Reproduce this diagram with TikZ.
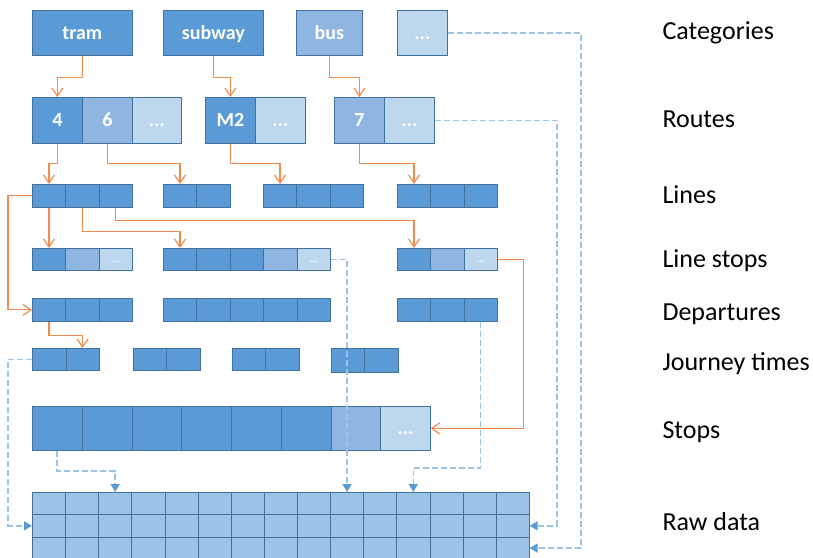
\documentclass[tikz,border=0pt]{standalone}
\usepackage{fontspec}
\setmainfont{Carlito}
\usepackage{tikz}
\usetikzlibrary{arrows.meta}

\definecolor{cellblue}{HTML}{5B9BD5}
\definecolor{midblue}{HTML}{8EB6E1}
\definecolor{paleblue}{HTML}{BDD7EE}
\definecolor{rawblue}{HTML}{9DC3E6}
\definecolor{edgeblue}{HTML}{41719C}
\definecolor{linkorange}{HTML}{F08C4E}
\definecolor{dashblue}{HTML}{9DC3E6}

\tikzset{
  cell/.style={draw=edgeblue, line width=0.7pt, fill=cellblue, inner sep=0pt, anchor=north west,
    text=white, font=\bfseries\fontsize{20}{20}\selectfont, text height=13pt, text depth=0pt},
  tiny/.style={font=\bfseries\fontsize{10}{10}\selectfont, text height=6pt},
  layer/.style={anchor=base west, font=\fontsize{26}{26}\selectfont},
  link/.style={draw=linkorange, line width=1.2pt, -{Straight Barb[length=8pt,width=11pt]}},
  ref/.style={draw=dashblue, line width=1.7pt, dash pattern=on 6pt off 3pt,
    -{Triangle[length=8pt,width=9pt,fill=cellblue,color=cellblue]}}
}

% cell row: name, x, y, width, height, colour list
\newcommand{\cellrow}[6]{%
  \foreach \c [count=\i] in {#6}
    \node[cell, fill=\c, minimum width=#4pt, minimum height=#5pt] (#1-\i) at ({#2+(\i-1)*#4}, {#3}) {};
}

\begin{document}
\begin{tikzpicture}[x=1pt, y=-1pt]
\useasboundingbox (0,0) rectangle (813,557);

% categories
\node[cell, minimum width=100pt, minimum height=45pt] (tram) at (32,10) {tram};
\node[cell, minimum width=100pt, minimum height=45pt] (subway) at (163,10) {subway};
\node[cell, fill=midblue, minimum width=66pt, minimum height=45pt] (bus) at (296,10) {bus};
\node[cell, fill=paleblue, minimum width=50pt, minimum height=45pt] (catmore) at (397,10) {...};

% routes
\node[cell, minimum width=50pt, minimum height=46pt] (r4) at (32,97) {4};
\node[cell, fill=midblue, minimum width=50pt, minimum height=46pt] (r6) at (82,97) {6};
\node[cell, fill=paleblue, minimum width=49pt, minimum height=46pt] (rmore1) at (132,97) {...};
\node[cell, minimum width=50pt, minimum height=46pt] (rM2) at (205,97) {M2};
\node[cell, fill=paleblue, minimum width=50pt, minimum height=46pt] (rmore2) at (255,97) {...};
\node[cell, fill=midblue, minimum width=50pt, minimum height=46pt] (r7) at (334,97) {7};
\node[cell, fill=paleblue, minimum width=50pt, minimum height=46pt] (rmore3) at (384,97) {...};

% lines
\cellrow{la}{32}{184}{33.3}{23}{cellblue,cellblue,cellblue}
\cellrow{lb}{163}{184}{33.3}{23}{cellblue,cellblue}
\cellrow{lc}{263}{184}{33.3}{23}{cellblue,cellblue,cellblue}
\cellrow{ld}{397}{184}{33.3}{23}{cellblue,cellblue,cellblue}

% line stops
\cellrow{sa}{32}{248}{33.3}{22}{cellblue,midblue,paleblue}
\cellrow{sb}{163}{248}{33.4}{22}{cellblue,cellblue,cellblue,midblue,paleblue}
\cellrow{sc}{397}{248}{33.3}{22}{cellblue,midblue,paleblue}
\foreach \n in {sa-3,sb-5,sc-3}
  \node[tiny, text=white] at (\n.center) {...};

% departures
\cellrow{da}{32}{298}{33.3}{23}{cellblue,cellblue,cellblue}
\cellrow{db}{163}{298}{33.4}{23}{cellblue,cellblue,cellblue,cellblue,cellblue}
\cellrow{dc}{397}{298}{33.3}{23}{cellblue,cellblue,cellblue}

% journey times
\cellrow{ja}{32}{348}{33.5}{22}{cellblue,cellblue}
\cellrow{jb}{133}{348}{33.3}{22}{cellblue,cellblue}
\cellrow{jc}{232}{348}{33.3}{22}{cellblue,cellblue}
\cellrow{jd}{331}{348}{33.3}{24}{cellblue,cellblue}

% stops
\cellrow{st}{32}{406}{49.75}{44}{cellblue,cellblue,cellblue,cellblue,cellblue,cellblue,midblue,paleblue}
\node[cell, fill=none, draw=none] at (st-8.north west) [minimum width=49.75pt, minimum height=44pt] {...};

% raw data
\foreach \r in {1,2,3} {
  \cellrow{raw\r}{32}{492+(\r-1)*22.3}{33.13}{22.3}{rawblue,rawblue,rawblue,rawblue,rawblue,rawblue,rawblue,rawblue,rawblue,rawblue,rawblue,rawblue,rawblue,rawblue,rawblue}
}

% layer names
\node[layer] (tcat) at (659,39) {Categories};
\node[layer] (troute) at (659,127) {Routes};
\node[layer] (tline) at (659,203) {Lines};
\node[layer] (tlstop) at (659,267) {Line stops};
\node[layer] (tdep) at (659,320) {Departures};
\node[layer] (tjour) at (659,370) {Journey times};
\node[layer] (tstop) at (659,438) {Stops};
\node[layer] (traw) at (659,530) {Raw data};

% references
\draw[link] (tram.south) -- ++(0,22) -| (r4.north);
\draw[link] (subway.south) -- ++(0,22) -| (rM2.north);
\draw[link] (bus.south) -- ++(0,22) -| (r7.north);
\draw[link] (r4.south) -- ++(0,20) -| (la-1.north);
\draw[link] (r6.south) -- ++(0,20) -| (lb-1.north);
\draw[link] (rM2.south) -- ++(0,20) -| (lc-1.north);
\draw[link] (r7.south) -- ++(0,20) -| (ld-1.north);
\draw[link] (la-1.west) -- ++(-24,0) |- (da-1.west);
\draw[link] (la-1.south) -- (sa-1.north);
\draw[link] (la-2.south) -- ++(0,24) -| (sb-1.north);
\draw[link] (la-3.south) -- ++(0,13) -| (sc-1.north);
\draw[link] (sc-3.east) -- ++(26,0) |- (st-8.east);
\draw[link] (da-1.south) -- ++(0,14) -| (ja-2.north);

\draw[ref] (catmore.east) -- ++(133,0) |- (raw3-15.east);
\draw[ref] (rmore3.east) -- ++(122,0) |- (raw2-15.east);
\draw[ref] (sb-5.east) -| (raw1-10.north);
\draw[ref] (dc-3.south) -- ++(0,146) -| (raw1-12.north);
\draw[ref] (ja-1.west) -- ++(-24,0) |- (raw2-1.west);
\draw[ref] (st-1.south) -- ++(0,20) -| (raw1-3.north);
\end{tikzpicture}
\end{document}
